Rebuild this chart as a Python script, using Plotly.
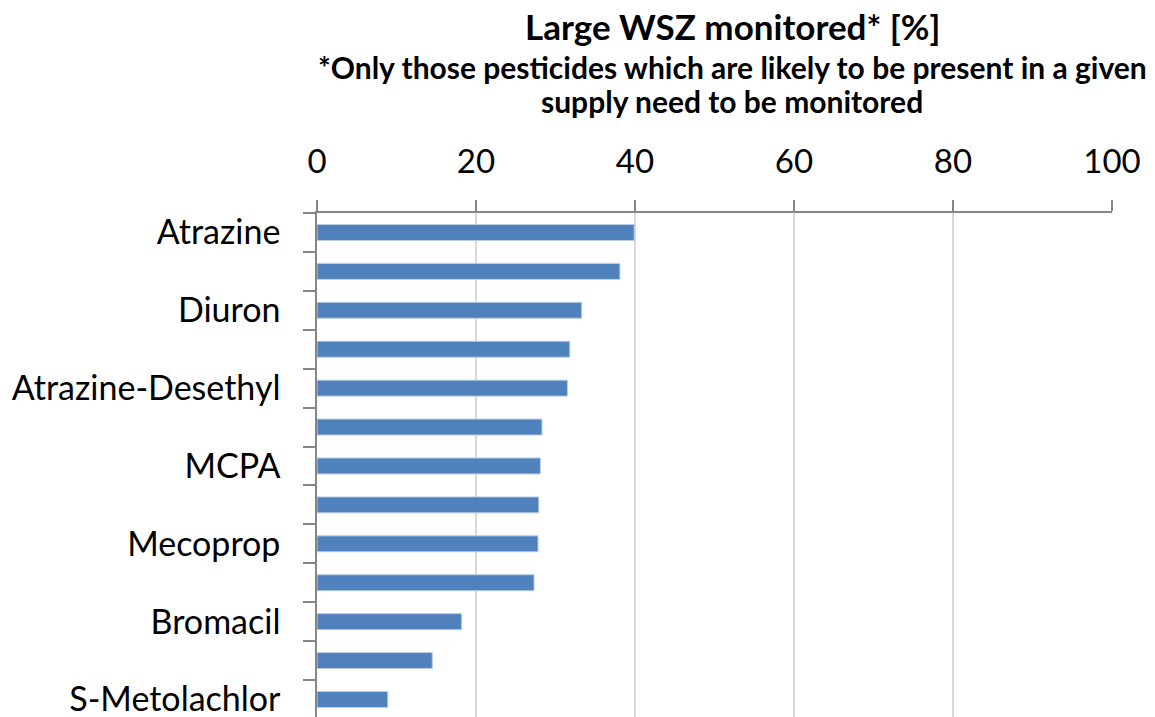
import plotly.graph_objects as go

categories = ["Atrazine", "Pesticide 2", "Diuron", "Pesticide 4", "Atrazine-Desethyl",
              "Pesticide 6", "MCPA", "Pesticide 8", "Mecoprop", "Pesticide 10",
              "Bromacil", "Pesticide 12", "S-Metolachlor"]
shown_labels = ["Atrazine", "", "Diuron", "", "Atrazine-Desethyl", "", "MCPA", "",
                "Mecoprop", "", "Bromacil", "", "S-Metolachlor"]
values = [39.9, 38.1, 33.3, 31.8, 31.5, 28.3, 28.1, 27.9, 27.8, 27.3, 18.2, 14.5, 8.9]
x_ticks = [0, 20, 40, 60, 80, 100]

title_text = "Large WSZ monitored* [%]"
subtitle_lines = ["*Only those pesticides which are likely to be present in a given",
                  "supply need to be monitored"]

FONT = "Lato"
W, H = 1155, 717
L, R, T, B = 317, 43, 213, 0
PH = H - T - B
PW = W - L - R

fig = go.Figure(go.Bar(
    x=values, y=categories, orientation="h",
    marker=dict(color="#4f81bd", line=dict(color="#b9cde5", width=1)),
    width=0.41,
))

fig.update_layout(
    width=W, height=H,
    margin=dict(l=L, r=R, t=T, b=B),
    plot_bgcolor="white", paper_bgcolor="white",
    font=dict(family=FONT, color="black"),
    showlegend=False,
    xaxis=dict(
        side="top", range=[0, 100], tickvals=x_ticks,
        showgrid=True, gridcolor="#d9d9d9", gridwidth=1.5,
        showline=True, linecolor="#868686", linewidth=1.5,
        ticks="outside", ticklen=11, tickcolor="#868686", tickwidth=1.5,
        tickfont=dict(size=33, family=FONT), ticklabelstandoff=14,
        zeroline=False, automargin=False,
    ),
    yaxis=dict(
        type="category", categoryorder="array", categoryarray=categories,
        range=[12.45, -0.5],
        tickmode="array", tickvals=categories, ticktext=shown_labels,
        tickson="boundaries",
        showline=True, linecolor="#868686", linewidth=1.5,
        ticks="outside", ticklen=12, tickcolor="#868686", tickwidth=1.5,
        tickfont=dict(size=34, family=FONT), ticklabelstandoff=28,
        showgrid=False, automargin=False,
    ),
)

fig.add_annotation(text="<b>" + title_text + "</b>", xref="paper", yref="paper",
                   x=(732 - L) / PW, y=1 + (T - 26) / PH, yanchor="middle",
                   showarrow=False, font=dict(size=35, family=FONT))
for line, fy in zip(subtitle_lines, [67.5, 101]):
    fig.add_annotation(text="<b>" + line + "</b>", xref="paper", yref="paper",
                       x=(732 - L) / PW, y=1 + (T - fy) / PH, yanchor="middle",
                       showarrow=False, font=dict(size=30, family=FONT))

fig.write_html("out.html", config={"displayModeBar": False},
               post_script="document.body.style.margin='0';document.body.style.overflow='hidden';")
